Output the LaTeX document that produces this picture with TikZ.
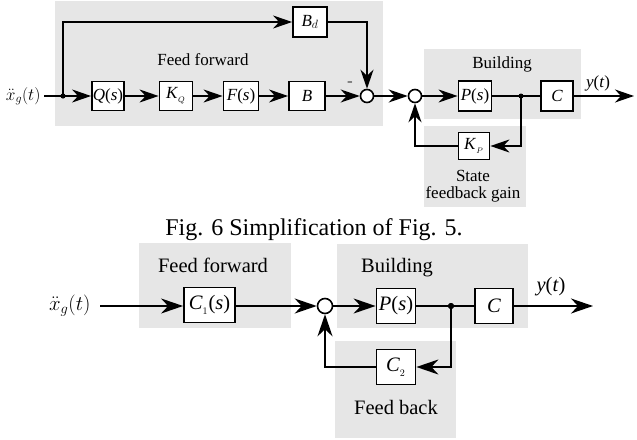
\documentclass[tikz,border=0pt]{standalone}
\usepackage{fontspec}
\setmainfont{Liberation Serif}
\usetikzlibrary{positioning, arrows.meta, calc}
\definecolor{panelgray}{HTML}{E6E6E6}
\newcommand{\topfont}{\fontsize{17}{19}\selectfont}
\newcommand{\botfont}{\fontsize{20.5}{23}\selectfont}
\newcommand{\capfont}{\fontsize{24}{27}\selectfont}

\begin{document}
\begin{tikzpicture}[%
		x=1pt, y=-1pt,
		block/.style={
			rectangle,
			inner sep=0pt,
			line width=1.8pt,
			fill=white,
			draw=black
		},
		topblock/.style={
			block,
			minimum width=33pt,
			minimum height=29pt,
			font=\topfont
		},
		botblock/.style={
			block,
			minimum width=39pt,
			minimum height=35pt,
			font=\botfont
		},
		summer/.style={
			circle,
			inner sep=0pt,
			line width=1.6pt,
			fill=white,
			draw=black
		},
		tap/.style={
			circle,
			fill=black,
			inner sep=0pt,
			minimum size=5pt
		},
		panel/.style={
			fill=panelgray
		},
		toplabel/.style={
			font=\topfont,
			align=center
		},
		botlabel/.style={
			font=\botfont,
			align=center
		},
		sigline/.style={
			line width=1.8pt
		},
		sigarrow/.style={
			sigline,
			-{Stealth[length=19pt,width=13pt,inset=6pt]}
		},
		bigarrow/.style={
			sigline,
			-{Stealth[length=22pt,width=15pt,inset=7pt]}
		}]

		\useasboundingbox (0,0) rectangle (637,439);

		% PANELS

		\fill[panel] (55,1) rectangle (383,126);
		\fill[panel] (424,49) rectangle (581,119);
		\fill[panel] (424,126) rectangle (526,207);

		\fill[panel] (139,243) rectangle (291,328);
		\fill[panel] (337,244) rectangle (528,328);
		\fill[panel] (335,341) rectangle (456,438);

		% FIG. 6 NODES

		\node (ff1) [toplabel] at (203,60) {Feed forward};
		\node (bld1) [toplabel] at (502,64) {Building};
		\node (sfg) [toplabel] at (473,186) {State\\[-2pt]feedback gain};

		\node (in1) [toplabel, anchor=east] at (44,96) {$\ddot{x}_g(t)$};
		\coordinate (split1) at (63,96);
		\node (Bd) [topblock, minimum width=34pt, minimum height=30pt] at (310,22) {\textit{B}$_d$};
		\node (Q) [topblock, minimum width=32pt] at (108,96) {\textit{Q}(\textit{s})};
		\node (KQ) [topblock] at (176,96) {\textit{K}$_{_Q}$};
		\node (Fs) [topblock, minimum width=35pt] at (241,96) {\textit{F}(\textit{s})};
		\node (B) [topblock, minimum width=36pt] at (307,96) {\textit{B}};
		\node (sum1) [summer, minimum size=13pt] at (367,96) {};
		\node (minus) [font=\topfont, text=black!70] at (350,84) {-};
		\node (sum2) [summer, minimum size=13pt] at (415,96) {};
		\node (P1) [topblock, minimum height=30pt] at (475,96) {\textit{P}(\textit{s})};
		\node (tap1) [tap] at (521,96) {};
		\node (C1out) [topblock, minimum width=32pt, minimum height=30pt] at (557,96) {\textit{C}};
		\node (y1) [toplabel] at (598,83) {\textit{y}(\textit{t})};
		\coordinate (out1) at (634,96);
		\node (KP) [topblock, minimum width=31pt, minimum height=27pt] at (474,146) {\textit{K}$_{_P}$};

		% FIG. 6 LINES

		\draw[sigline] (in1.east) -- (split1);
		\fill (split1) circle (2.6pt);
		\draw[sigarrow] (split1) -- (Q.west);
		\draw[sigarrow] (split1) |- (Bd.west);
		\draw[sigarrow] (Q.east) -- (KQ.west);
		\draw[sigarrow] (KQ.east) -- (Fs.west);
		\draw[sigarrow] (Fs.east) -- (B.west);
		\draw[sigarrow] (B.east) -- (sum1.west);
		\draw[sigarrow] (Bd.east) -| (sum1.north);
		\draw[sigarrow] (sum1.east) -- (sum2.west);
		\draw[sigarrow] (sum2.east) -- (P1.west);
		\draw[sigline] (P1.east) -- (C1out.west);
		\draw[sigarrow] (C1out.east) -- (out1);
		\draw[sigarrow] (tap1.center) |- (KP.east);
		\draw[sigarrow] (KP.west) -| (sum2.south);

		% CAPTION

		\node (caption) [font=\capfont] at (314,230) {Fig. 6 Simplification of Fig. 5.};

		% SIMPLIFIED NODES

		\node (ff2) [botlabel] at (213,265) {Feed forward};
		\node (bld2) [botlabel] at (397,268) {Building};
		\node (fb) [botlabel] at (396,407) {Feed back};

		\node (in2) [botlabel, anchor=east] at (94,306) {$\ddot{x}_g(t)$};
		\node (Cone) [botblock, minimum width=51pt] at (209.5,305) {\textit{C}$_{_1}$(\textit{s})};
		\node (sum3) [summer, minimum size=15pt] at (325,306) {};
		\node (P2) [botblock] at (396,306) {\textit{P}(\textit{s})};
		\node (tap2) [tap, minimum size=6pt] at (451,306) {};
		\node (C2out) [botblock, minimum width=38pt] at (494,306) {\textit{C}};
		\node (y2) [botlabel] at (551,287) {\textit{y}(\textit{t})};
		\coordinate (out2) at (593,306);
		\node (Ctwo) [botblock] at (396,367) {\textit{C}$_{_2}$};

		% SIMPLIFIED LINES

		\draw[bigarrow, shorten <=6pt] (in2.east) -- (Cone.west |- in2.east);
		\draw[bigarrow] (Cone.east |- sum3.west) -- (sum3.west);
		\draw[bigarrow] (sum3.east) -- (P2.west);
		\draw[sigline] (P2.east) -- (C2out.west);
		\fill (tap2) circle (3pt);
		\draw[bigarrow] (C2out.east) -- (out2);
		\draw[bigarrow] (tap2.center) |- (Ctwo.east);
		\draw[bigarrow] (Ctwo.west) -| (sum3.south);
\end{tikzpicture}
\end{document}
